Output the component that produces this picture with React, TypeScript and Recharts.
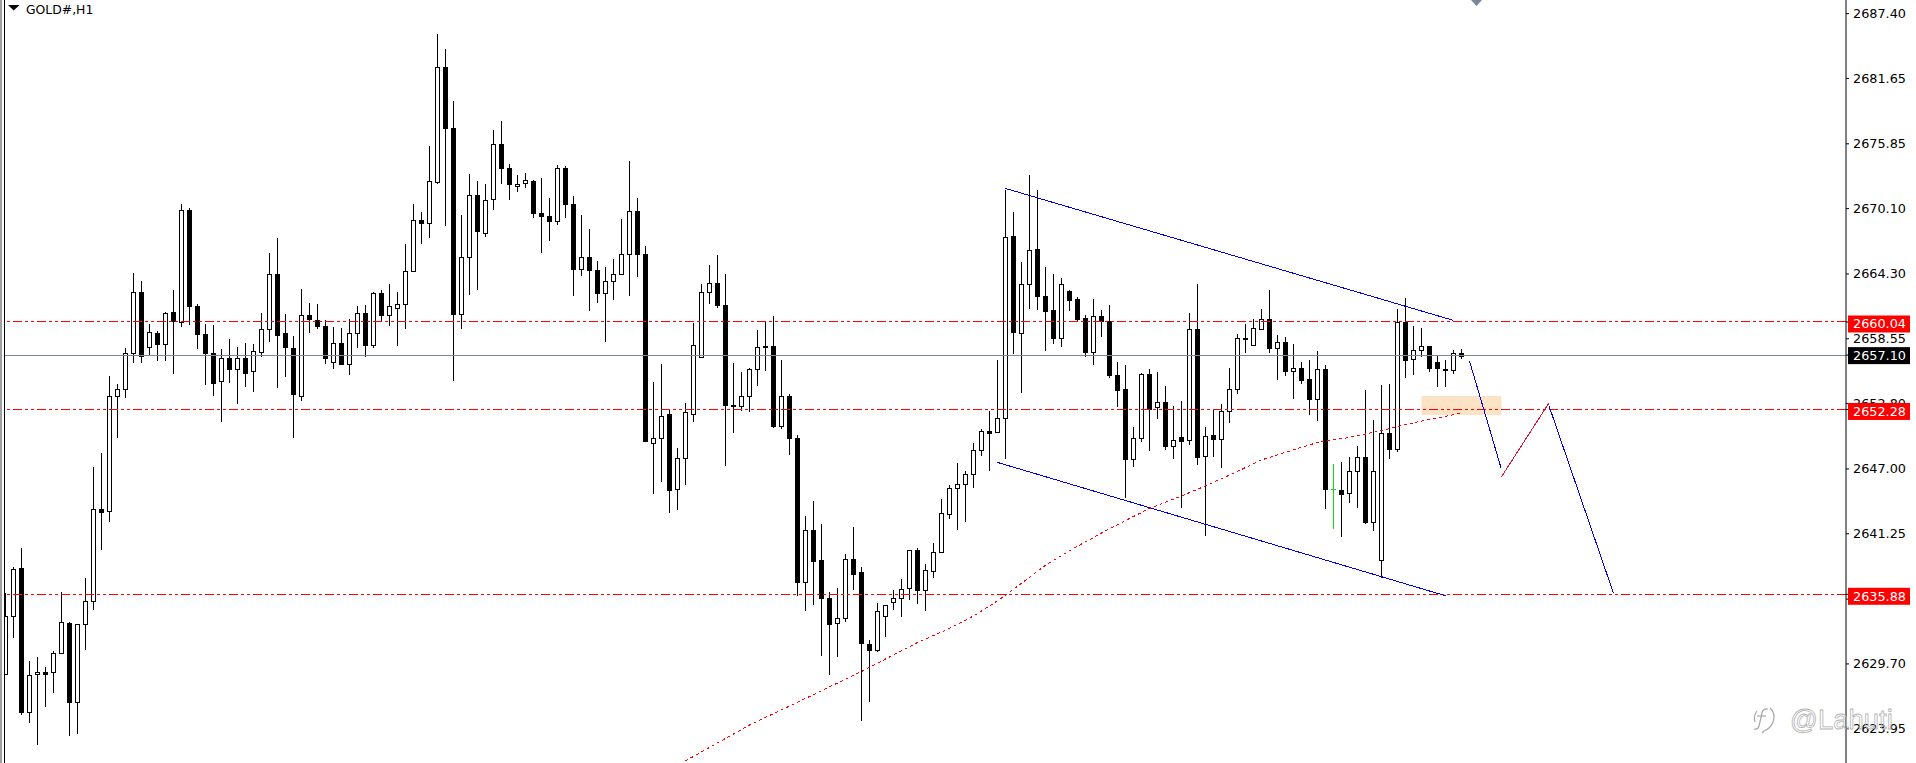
import {
  Bar,
  ComposedChart,
  Line,
  ReferenceArea,
  ReferenceLine,
  XAxis,
  YAxis,
} from "recharts";

const highs = [
  2636.02, 2638.31, 2640.03, 2629.97, 2630.32, 2629.46, 2630.84, 2636.11, 2633.39, 2633.21,
  2637.31, 2647.16, 2648.41, 2655.23, 2654.54, 2657.74, 2664.39, 2663.7, 2659.85, 2659.25,
  2660.93, 2662.88, 2670.52, 2670.17, 2661.62, 2659.85, 2659.77, 2657.65, 2658.51, 2657.78,
  2658.17, 2658.08, 2660.85, 2666.16, 2667.5, 2660.76, 2658.82, 2662.96, 2661.75, 2661.62,
  2660.24, 2659.59, 2659.51, 2660.33, 2661.45, 2661.54, 2662.66, 2662.88, 2663.39, 2662.7,
  2666.98, 2670.52, 2669.78, 2675.66, 2685.59, 2684.25, 2679.63, 2669.53, 2673.15, 2672.55,
  2672.29, 2677.08, 2677.86, 2674.06, 2673.07, 2673.24, 2672.68, 2672.81, 2671.04, 2673.97,
  2673.84, 2671.25, 2669.53, 2668.27, 2665.42, 2664.91, 2665.64, 2669.22, 2674.32, 2671.04,
  2666.76, 2654.72, 2656.31, 2652.21, 2648.84, 2652.86, 2659.94, 2663.44, 2665.08, 2665.98,
  2664.3, 2656.4, 2655.62, 2655.92, 2659.34, 2660.11, 2660.59, 2656.66, 2653.64, 2650.05,
  2642.84, 2644.14, 2642.11, 2636.11, 2636.45, 2639.47, 2641.85, 2638.31, 2631.79, 2635.11,
  2634.9, 2636.28, 2637.23, 2639.78, 2639.99, 2638.61, 2640.42, 2644.35, 2645.57, 2647.52,
  2646.81, 2649.27, 2650.51, 2652.13, 2656.66, 2671.74, 2669.79, 2665.33, 2673.08, 2671.74,
  2664.91, 2664.29, 2663.94, 2662.87, 2662.25, 2660.65, 2662.07, 2661.1, 2661.54, 2656.48,
  2656.22, 2650.72, 2655.48, 2655.86, 2655.6, 2654.35, 2652.58, 2653.02, 2660.8, 2663.4,
  2650.72, 2652.25, 2652.76, 2655.95, 2658.97, 2659.85, 2660.3, 2661.19, 2662.87, 2658.88,
  2658.7, 2658.08, 2656.48, 2656.66, 2657.46, 2656.22, 2647.43, 2647.61, 2648.02, 2649.03,
  2654.0, 2651.34, 2654.44, 2654.53, 2661.19, 2662.16, 2659.68, 2659.5, 2657.87, 2657.1,
  2656.66, 2657.55, 2657.64,
];

const lows = [
  2628.81, 2631.96, 2625.14, 2624.49, 2622.55, 2625.92, 2627.08, 2630.62, 2623.32, 2623.45,
  2630.97, 2634.51, 2639.78, 2642.32, 2649.71, 2653.33, 2656.36, 2656.44, 2657.05, 2656.61,
  2656.61, 2655.45, 2659.64, 2659.81, 2657.61, 2654.41, 2653.51, 2651.13, 2654.59, 2652.73,
  2654.28, 2653.85, 2656.96, 2658.3, 2654.15, 2655.19, 2649.71, 2653.07, 2659.03, 2659.38,
  2656.27, 2655.84, 2656.18, 2655.36, 2657.69, 2656.96, 2657.69, 2660.16, 2659.72, 2657.95,
  2659.46, 2664.52, 2666.93, 2667.45, 2672.25, 2668.53, 2654.76, 2659.46, 2662.4, 2662.92,
  2667.54, 2670.0, 2672.25, 2670.82, 2671.6, 2671.9, 2669.31, 2666.2, 2667.19, 2668.62,
  2669.31, 2662.31, 2664.08, 2660.98, 2661.75, 2658.3, 2662.01, 2664.26, 2662.31, 2664.0,
  2649.36, 2644.74, 2645.86, 2643.06, 2643.4, 2645.61, 2651.13, 2656.96, 2661.67, 2661.24,
  2647.29, 2650.22, 2652.12, 2652.08, 2654.33, 2655.67, 2650.66, 2650.57, 2648.28, 2635.76,
  2634.42, 2634.9, 2630.36, 2628.68, 2630.28, 2633.39, 2636.28, 2624.66, 2626.35, 2630.8,
  2632.05, 2634.51, 2633.9, 2635.41, 2634.98, 2634.42, 2637.36, 2639.6, 2642.52, 2641.61,
  2642.31, 2645.33, 2648.17, 2646.81, 2650.24, 2647.91, 2657.22, 2653.76, 2661.19, 2661.13,
  2657.49, 2658.08, 2657.84, 2661.01, 2660.06, 2656.96, 2656.25, 2658.7, 2655.09, 2652.52,
  2644.42, 2647.2, 2649.41, 2648.62, 2651.45, 2648.7, 2647.91, 2643.56, 2649.15, 2647.37,
  2641.07, 2648.08, 2647.11, 2651.1, 2653.67, 2657.31, 2657.93, 2659.32, 2657.31, 2654.91,
  2655.27, 2653.23, 2654.56, 2651.81, 2651.28, 2643.47, 2641.69, 2640.98, 2644.0, 2643.56,
  2642.08, 2641.52, 2637.29, 2647.91, 2648.53, 2655.09, 2655.33, 2656.96, 2655.62, 2654.29,
  2654.29, 2655.45, 2656.72,
];

const opens = [
  2628.81, 2633.99, 2638.18, 2625.4, 2628.77, 2628.94, 2628.94, 2630.71, 2633.3, 2626.35,
  2633.21, 2635.24, 2643.49, 2643.23, 2653.51, 2654.07, 2657.26, 2662.66, 2657.78, 2659.03,
  2658.13, 2660.89, 2660.07, 2670.0, 2661.49, 2658.95, 2657.26, 2654.84, 2656.87, 2655.84,
  2656.87, 2655.67, 2657.35, 2659.46, 2664.26, 2659.03, 2657.69, 2653.51, 2660.63, 2660.24,
  2659.72, 2656.53, 2658.21, 2656.27, 2659.03, 2660.8, 2658.04, 2662.57, 2660.63, 2661.24,
  2661.67, 2664.6, 2669.05, 2668.79, 2672.5, 2682.69, 2677.21, 2660.72, 2665.77, 2671.34,
  2667.97, 2670.91, 2675.87, 2673.67, 2672.07, 2672.33, 2672.59, 2669.74, 2669.48, 2668.96,
  2673.67, 2670.48, 2664.78, 2665.77, 2664.69, 2662.57, 2663.65, 2664.34, 2666.03, 2669.91,
  2666.03, 2649.28, 2649.71, 2651.91, 2645.26, 2647.94, 2651.91, 2656.96, 2662.66, 2663.52,
  2661.58, 2652.69, 2652.56, 2653.51, 2655.84, 2657.87, 2657.95, 2650.83, 2653.51, 2649.71,
  2636.93, 2641.55, 2638.96, 2635.59, 2633.3, 2633.82, 2639.04, 2637.83, 2631.44, 2630.97,
  2633.99, 2635.16, 2635.59, 2636.41, 2639.78, 2636.28, 2637.96, 2639.6, 2642.97, 2645.27,
  2645.63, 2646.51, 2648.64, 2650.33, 2650.24, 2651.48, 2667.66, 2659.03, 2663.37, 2666.51,
  2662.31, 2661.1, 2658.64, 2662.75, 2662.04, 2660.36, 2657.4, 2660.53, 2660.09, 2655.3,
  2654.06, 2647.91, 2649.71, 2655.39, 2652.46, 2652.9, 2649.06, 2649.8, 2649.59, 2659.38,
  2648.11, 2649.98, 2649.68, 2652.11, 2654.06, 2658.61, 2658.02, 2659.44, 2660.27, 2657.75,
  2658.23, 2655.71, 2655.92, 2654.94, 2653.23, 2655.83, 2645.18, 2645.1, 2644.83, 2646.78,
  2648.02, 2642.26, 2638.88, 2650.15, 2648.79, 2660.0, 2656.72, 2657.52, 2657.87, 2656.45,
  2655.83, 2655.74, 2657.25,
];

const closes = [
  2633.99, 2638.09, 2625.4, 2628.68, 2628.94, 2628.85, 2630.71, 2633.39, 2626.35, 2633.21,
  2635.24, 2643.49, 2643.14, 2653.51, 2654.07, 2657.26, 2662.66, 2657.05, 2659.12, 2658.13,
  2660.8, 2660.11, 2670.0, 2661.49, 2658.95, 2657.26, 2654.67, 2656.87, 2655.84, 2656.87,
  2655.54, 2657.44, 2659.46, 2664.26, 2658.86, 2657.78, 2653.68, 2660.63, 2660.33, 2659.72,
  2656.87, 2658.21, 2656.27, 2659.03, 2660.8, 2658.04, 2662.57, 2660.63, 2661.49, 2661.67,
  2664.6, 2669.05, 2668.79, 2672.59, 2682.69, 2677.21, 2660.72, 2665.77, 2671.34, 2668.14,
  2670.82, 2675.87, 2673.67, 2672.25, 2672.25, 2672.68, 2669.74, 2669.48, 2668.96, 2673.67,
  2670.48, 2664.78, 2665.77, 2664.69, 2662.57, 2663.65, 2664.34, 2666.03, 2669.91, 2666.03,
  2649.45, 2649.71, 2651.74, 2645.09, 2647.94, 2652.08, 2658.04, 2662.66, 2663.52, 2661.58,
  2652.64, 2652.56, 2653.51, 2655.84, 2657.78, 2657.78, 2650.83, 2653.51, 2649.71, 2636.93,
  2641.55, 2638.87, 2635.59, 2633.21, 2633.82, 2639.04, 2637.7, 2631.53, 2630.97, 2634.42,
  2634.9, 2635.59, 2636.36, 2639.78, 2636.28, 2638.01, 2639.6, 2643.06, 2645.27, 2645.63,
  2646.51, 2648.64, 2650.33, 2650.21, 2651.48, 2667.54, 2659.17, 2663.37, 2666.39, 2662.37,
  2661.04, 2658.64, 2663.37, 2662.01, 2660.33, 2657.4, 2660.53, 2660.09, 2655.36, 2654.03,
  2647.91, 2649.71, 2655.39, 2652.31, 2652.9, 2649.06, 2649.53, 2649.5, 2659.38, 2648.08,
  2649.89, 2649.68, 2652.11, 2654.06, 2658.58, 2658.52, 2659.47, 2660.27, 2657.75, 2658.23,
  2655.71, 2655.92, 2654.91, 2653.23, 2655.83, 2645.18, 2645.18, 2644.8, 2646.78, 2648.02,
  2642.31, 2646.78, 2650.15, 2648.79, 2660.0, 2656.63, 2657.52, 2657.87, 2655.98, 2655.98,
  2655.74, 2657.25, 2657.05,
];

// the one bar the trading terminal paints green
const greenBars = [167];

// moving average, read at these bars only
const maBars = [
  86, 94, 100, 108, 115, 119, 122, 125, 126, 128, 131, 134, 139, 144, 148, 151, 154, 158, 162,
  165, 169, 173, 177, 183,
];
const maValues = [
  2621.1, 2624.28, 2626.3, 2629.03, 2631.6, 2632.85, 2633.95, 2635.3, 2635.8, 2636.85, 2638.45,
  2639.75, 2641.7, 2643.5, 2644.6, 2645.5, 2646.45, 2647.8, 2648.7, 2649.35, 2649.8, 2650.4,
  2651.1, 2651.95,
];

const axisTicks = [
  2687.4, 2681.65, 2675.85, 2670.1, 2664.3, 2658.55, 2652.8, 2647.0, 2641.25, 2635.45, 2629.7,
  2623.95,
];
const levelPrices = [2660.04, 2652.28, 2635.88];
const lastPrice = 2657.1;

const channelUpper = [
  { x: 126, y: 2671.89 },
  { x: 182, y: 2660.18 },
];
const channelLower = [
  { x: 125, y: 2647.58 },
  { x: 181, y: 2635.75 },
];
const forecastDrop = [
  { x: 184, y: 2656.57 },
  { x: 187.96, y: 2647.05 },
];
const forecastBounce = [
  { x: 188, y: 2646.31 },
  { x: 193.9, y: 2652.82 },
];
const forecastTarget = [
  { x: 193.95, y: 2652.58 },
  { x: 202, y: 2635.96 },
];
const zoneBars = [178, 188];
const zonePrices = [2651.78, 2653.47];

const chartData = highs.map((high, i) => {
  const maIndex = maBars.indexOf(i + 1);
  return {
    n: i + 1,
    high,
    low: lows[i],
    open: opens[i],
    close: closes[i],
    ma: maIndex >= 0 ? maValues[maIndex] : null,
  };
});

const BLUE = "#0000e0";

function Candle(props: any) {
  const { x, y, width, height, payload } = props;
  const { high, low, open, close, n } = payload;
  const pxPerPrice = height / (high - low);
  const toY = (price: number) => y + (high - price) * pxPerPrice;
  const cx = Math.floor(x + width / 2) + 0.5;
  const color = greenBars.includes(n) ? "#10dc10" : "#000000";
  const up = close >= open;
  const top = Math.round(toY(Math.max(open, close))) + 0.5;
  const bottom = Math.round(toY(Math.min(open, close))) + 0.5;
  return (
    <g shapeRendering="crispEdges">
      <line x1={cx} x2={cx} y1={Math.round(y)} y2={Math.round(y + height)} stroke={color} />
      {top === bottom ? (
        <line x1={cx - 2.5} x2={cx + 2.5} y1={top} y2={top} stroke={color} />
      ) : (
        <rect
          x={cx - 2}
          y={top}
          width={4}
          height={bottom - top}
          fill={up ? "#ffffff" : color}
          stroke={color}
        />
      )}
    </g>
  );
}

function PriceTick(props: any) {
  const { x, y, payload } = props;
  const label = payload.value.toFixed(2);
  const isLevel = levelPrices.includes(payload.value);
  const isLast = payload.value === lastPrice;
  const font = { fontFamily: "DejaVu Sans", fontSize: 12.8 };
  if (isLevel || isLast) {
    const boxTop = isLast ? y - 8 : y - 6.5;
    return (
      <g>
        <rect x={x - 5} y={boxTop} width={62} height={17} fill={isLast ? "#000000" : "#ff0000"} />
        <text x={x} y={boxTop + 13} fill="#ffffff" {...font}>
          {label}
        </text>
      </g>
    );
  }
  return (
    <text x={x} y={y + 4.5} fill="#000000" {...font}>
      {label}
    </text>
  );
}

export default function App() {
  return (
    <div style={{ position: "absolute", left: 0, top: 0, width: 1916, height: 763, background: "#fff" }}>
      {/* terminal window edge on the left */}
      <div style={{ position: "absolute", left: 0, top: 0, width: 2, height: 763, background: "#a0a0a0" }} />
      <div style={{ position: "absolute", left: 4, top: 0, width: 1, height: 763, background: "#000" }} />
      <ComposedChart
        width={1916}
        height={763}
        data={chartData}
        margin={{ top: 0, right: 0, bottom: 0, left: 5 }}
      >
        <XAxis
          type="number"
          dataKey="n"
          domain={[0.9375, 231.0625]}
          allowDataOverflow
          hide
        />
        <YAxis
          orientation="right"
          width={70}
          domain={[2620.91, 2688.61]}
          allowDataOverflow
          ticks={[...axisTicks, lastPrice, ...levelPrices]}
          interval={0}
          tick={<PriceTick />}
          tickSize={3}
          tickMargin={4}
          stroke="#000000"
        />
        <ReferenceArea
          x1={zoneBars[0]}
          x2={zoneBars[1]}
          y1={zonePrices[0]}
          y2={zonePrices[1]}
          fill="#fde3c6"
          fillOpacity={1}
          stroke="none"
        />
        <ReferenceLine y={lastPrice} stroke="#778899" shapeRendering="crispEdges" />
        {levelPrices.map((price) => (
          <ReferenceLine
            key={price}
            y={price}
            stroke="#ff0000"
            strokeDasharray="9 3 3 3 3 3"
            shapeRendering="crispEdges"
          />
        ))}
        <ReferenceLine segment={channelUpper} stroke={BLUE} shapeRendering="crispEdges" />
        <ReferenceLine segment={channelLower} stroke={BLUE} shapeRendering="crispEdges" />
        <ReferenceLine segment={forecastDrop} stroke={BLUE} shapeRendering="crispEdges" />
        <ReferenceLine segment={forecastBounce} stroke="#dc143c" shapeRendering="crispEdges" />
        <ReferenceLine segment={forecastTarget} stroke={BLUE} shapeRendering="crispEdges" />
        <Bar
          dataKey={(d: any) => [d.low, d.high]}
          barSize={5}
          shape={Candle}
          isAnimationActive={false}
        />
        <Line
          dataKey="ma"
          connectNulls
          dot={false}
          stroke="#ff0000"
          strokeWidth={1}
          strokeDasharray="3 3"
          shapeRendering="crispEdges"
          isAnimationActive={false}
        />
      </ComposedChart>
      <svg
        width={1916}
        height={763}
        style={{ position: "absolute", left: 0, top: 0, pointerEvents: "none" }}
      >
        <polygon points="8,5 19.5,5 13.75,10.5" fill="#000000" />
        <text x={26} y={14} fontFamily="DejaVu Sans" fontSize={12.4} fill="#000000">
          GOLD#,H1
        </text>
        <polygon points="1471,0 1482,0 1476.5,6" fill="#778899" />
        <g fill="none" stroke="#a8a8a8" strokeWidth={1.2}>
          <path d="M1768 709 q-5 -1 -6 4 l-3 13 q-1 4 -5 3" />
          <path d="M1757 716 h9" />
          <path d="M1770 708 q6 5 3 14 q-2 6 -9 9 l-2 2" />
          <path d="M1757 711 q-4 5 -2 11" />
        </g>
        <text
          x={1790}
          y={729}
          fontFamily="Liberation Sans"
          fontSize={27.5}
          fill="none"
          stroke="#b4b4b4"
          strokeWidth={0.8}
        >
          @Lahuti
        </text>
      </svg>
    </div>
  );
}
